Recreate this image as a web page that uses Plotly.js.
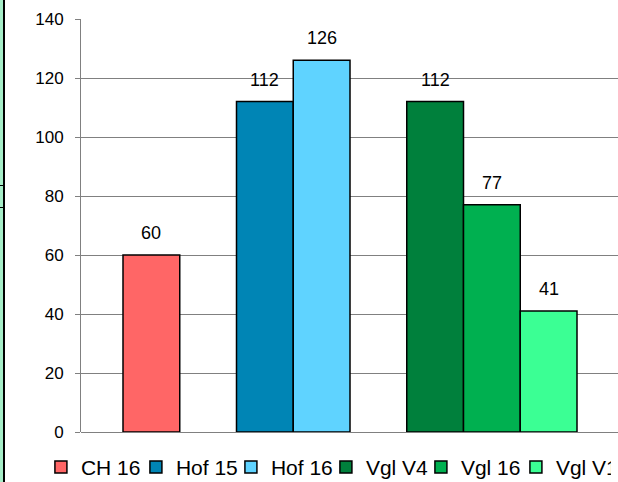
<!DOCTYPE html>
<html>
<head>
<meta charset="utf-8">
<script src="https://cdn.plot.ly/plotly-3.0.1.min.js"></script>
<style>
  html, body { margin: 0; padding: 0; background: #ffffff; overflow: hidden; width: 618px; height: 482px; }
  #wrap { position: relative; width: 618px; height: 482px; overflow: hidden; }
  #chart { position: absolute; left: 0; top: 0; }
  .deco { position: absolute; }
</style>
</head>
<body>
<div id="wrap">
  <div id="chart"></div>
  <div class="deco" style="left:0;top:0;width:3px;height:482px;background:#a6eec8;"></div>
  <div class="deco" style="left:3px;top:0;width:2px;height:482px;background:#000;"></div>
  <div class="deco" style="left:0;top:185px;width:3px;height:1px;background:#000;"></div>
  <div class="deco" style="left:0;top:207px;width:3px;height:1px;background:#000;"></div>
</div>
<script>
// ---- data ----
const seriesNames  = ['CH 16', 'Hof 15', 'Hof 16', 'Vgl V4', 'Vgl 16', 'Vgl V1'];
const seriesValues = [60, 112, 126, 112, 77, 41];
const seriesGroup  = [0, 1, 1, 2, 2, 2];          // cluster each series belongs to
const yTicks       = [0, 20, 40, 60, 80, 100, 120, 140];

// ---- styles ----
const seriesColors = ['#ff6666', '#0085b5', '#5fd3ff', '#00803c', '#00b050', '#3bff94'];
const FONT = 'Arial, "Liberation Sans", sans-serif';

// slot of each bar: consecutive bars, one empty slot between clusters
const slots = seriesNames.map((n, i) => i + seriesGroup[i]);

const traces = seriesNames.map((name, i) => ({
  type: 'bar',
  name: name,
  x: [slots[i]],
  y: [seriesValues[i]],
  width: 1,
  marker: { color: seriesColors[i], line: { color: '#000000', width: 1.5 } },
  hoverinfo: 'none'
}));

const annotations = seriesNames.map((name, i) => ({
  x: slots[i],
  y: seriesValues[i],
  xref: 'x', yref: 'y',
  text: String(seriesValues[i]),
  showarrow: false,
  yanchor: 'middle',
  yshift: 22,
  font: { family: FONT, size: 18, color: '#000000' }
}));

const layout = {
  width: 700,
  height: 520,
  margin: { l: 81, r: 81, t: 19, b: 88 },
  paper_bgcolor: '#ffffff',
  plot_bgcolor: '#ffffff',
  showlegend: true,
  barmode: 'overlay',
  xaxis: {
    range: [-1.24, 8.24],
    showgrid: false,
    zeroline: false,
    showticklabels: false,
    ticks: '',
    showline: false,
    fixedrange: true
  },
  yaxis: {
    range: [0, 140],
    tickvals: yTicks,
    ticktext: yTicks.map(String),
    showgrid: true,
    gridcolor: '#808080',
    gridwidth: 1,
    zeroline: true,
    zerolinecolor: '#808080',
    zerolinewidth: 1,
    showline: true,
    linecolor: '#808080',
    linewidth: 1,
    ticks: 'outside',
    ticklen: 5,
    tickcolor: '#808080',
    ticklabelstandoff: 8,
    tickfont: { family: FONT, size: 17, color: '#000000' },
    fixedrange: true
  },
  legend: {
    orientation: 'h',
    x: -0.0745,
    xanchor: 'left',
    y: -0.036,
    yanchor: 'top',
    entrywidth: 50,
    entrywidthmode: 'pixels',
    itemwidth: 30,
    font: { family: FONT, size: 21, color: '#000000' },
    bgcolor: 'rgba(0,0,0,0)'
  },
  annotations: annotations
};

Plotly.newPlot('chart', traces, layout, { displayModeBar: false, staticPlot: true });
</script>
</body>
</html>
